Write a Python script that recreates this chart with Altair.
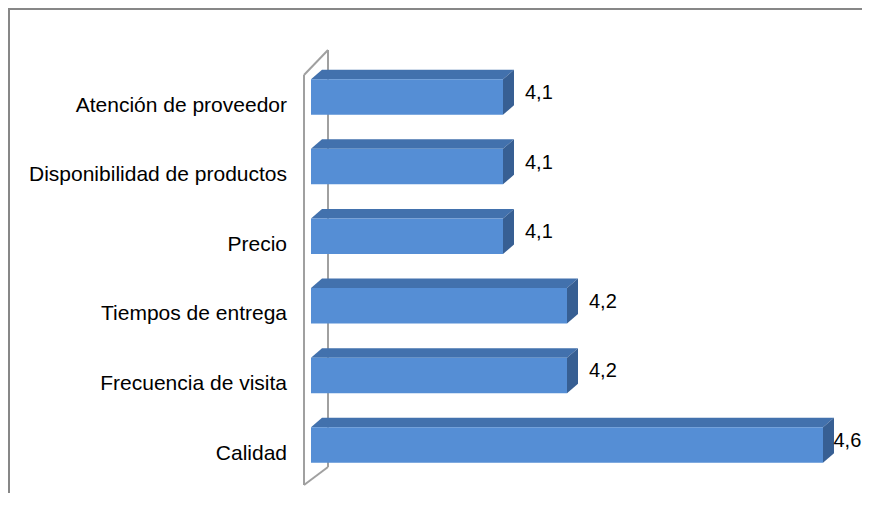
import altair as alt
import pandas as pd

# ---- data ----
categories = ["Atención de proveedor", "Disponibilidad de productos", "Precio",
              "Tiempos de entrega", "Frecuencia de visita", "Calidad"]
values = [4.1, 4.1, 4.1, 4.2, 4.2, 4.6]

# ---- layout (pixels inside the svg) ----
W, H = 854, 485
AXIS_MIN = 3.8          # value where the bars start
PX_PER_UNIT = 640.0
ORIGIN_PX = 303         # svg x of AXIS_MIN
ROW_PX = 69.6           # distance between bar centres
FIRST_ROW_PX = 89       # svg y of first bar centre
BAR_PX = 35.5
DEPTH_X_PX = 11
DEPTH_Y_PX = 9.5
LABEL_DX = 22
LABEL_W = 28.5          # approx. width of a value label

FRONT = "#558ED5"
TOP = "#4271AD"
SIDE = "#375F93"
WALL = "#A0A0A0"
BORDER = "#878787"
FONT = "Liberation Sans"


def px_to_x(px):
    return AXIS_MIN + (px - ORIGIN_PX) / PX_PER_UNIT


def px_to_y(py):
    return (py - FIRST_ROW_PX) / ROW_PX


x_domain = [px_to_x(0), px_to_x(W)]
y_domain = [px_to_y(0), px_to_y(H)]
xs = alt.Scale(domain=x_domain, nice=False, zero=False)
ys = alt.Scale(domain=y_domain, nice=False, zero=False, reverse=True)

dxu = DEPTH_X_PX / PX_PER_UNIT
dyu = DEPTH_Y_PX / ROW_PX
hu = BAR_PX / ROW_PX / 2

bars = pd.DataFrame({"cat": categories, "value": values, "idx": list(range(len(categories)))})
bars["base"] = AXIS_MIN
bars["y_top"] = bars["idx"] - hu
bars["y_bot"] = bars["idx"] + hu
bars["label"] = [f"{v:.1f}".replace(".", ",") for v in values]
# keep value labels inside the drawing
bars["label_x"] = bars["value"].clip(upper=px_to_x(W - LABEL_W - LABEL_DX))

# top faces (parallelograms) and right side faces, derived from the values
top_rows, side_rows = [], []
for c, v, i in zip(categories, values, range(len(categories))):
    yf = i - hu
    yb = yf - dyu
    top_rows += [
        {"cat": c, "x": AXIS_MIN, "y": yf, "y2": yf},
        {"cat": c, "x": AXIS_MIN + dxu, "y": yb, "y2": yf},
        {"cat": c, "x": v, "y": yb, "y2": yf},
        {"cat": c, "x": v + dxu, "y": yb, "y2": yb},
    ]
    side_rows += [
        {"cat": c, "x": v, "y": yf, "y2": yf + 2 * hu},
        {"cat": c, "x": v + dxu, "y": yb, "y2": yb + 2 * hu},
    ]
top_df = pd.DataFrame(top_rows)
side_df = pd.DataFrame(side_rows)

# 3-D side wall outline
wall_pts = [((296, 67), (296, 477)), ((320, 42), (320, 459)),
            ((296, 67), (320, 42)), ((296, 477), (320, 459))]
wall_df = pd.DataFrame([
    {"x": px_to_x(a[0]), "y": px_to_y(a[1]), "x2": px_to_x(b[0]), "y2": px_to_y(b[1])}
    for a, b in wall_pts
])

wall = alt.Chart(wall_df).mark_rule(color=WALL, strokeWidth=2).encode(
    x=alt.X("x:Q", scale=xs, axis=None),
    y=alt.Y("y:Q", scale=ys, axis=None),
    x2="x2:Q", y2="y2:Q",
)

front = alt.Chart(bars).mark_rect(color=FRONT).encode(
    x=alt.X("base:Q", scale=xs, axis=None),
    x2="value:Q",
    y=alt.Y("y_top:Q", scale=ys, axis=None),
    y2="y_bot:Q",
)

top = alt.Chart(top_df).mark_area(color=TOP, orient="vertical").encode(
    x=alt.X("x:Q", scale=xs, axis=None),
    y=alt.Y("y:Q", scale=ys, axis=None, stack=None),
    y2="y2:Q",
    detail="cat:N",
)

side = alt.Chart(side_df).mark_area(color=SIDE, orient="vertical").encode(
    x=alt.X("x:Q", scale=xs, axis=None),
    y=alt.Y("y:Q", scale=ys, axis=None, stack=None),
    y2="y2:Q",
    detail="cat:N",
)

cat_labels = alt.Chart(bars).mark_text(
    align="right", baseline="alphabetic", dx=-24, dy=14.5,
    fontSize=21, font=FONT, color="#000000",
).encode(
    x=alt.X("base:Q", scale=xs, axis=None),
    y=alt.Y("idx:Q", scale=ys, axis=None),
    text="cat:N",
)

val_labels = alt.Chart(bars).mark_text(
    align="left", baseline="alphabetic", dx=LABEL_DX, dy=2,
    fontSize=20, font=FONT, color="#000000",
).encode(
    x=alt.X("label_x:Q", scale=xs, axis=None),
    y=alt.Y("idx:Q", scale=ys, axis=None),
    text="label:N",
)

one = pd.DataFrame({"a": [0]})
border_left = alt.Chart(one).mark_rule(color=BORDER, strokeWidth=2).encode(
    x=alt.value(1), y=alt.value(0), y2=alt.value(H)
)
border_top = alt.Chart(one).mark_rule(color=BORDER, strokeWidth=2).encode(
    x=alt.value(0), x2=alt.value(W), y=alt.value(1)
)

chart = alt.layer(
    wall, top, side, front, cat_labels, val_labels, border_left, border_top
).properties(
    width=W, height=H, autosize=alt.AutoSizeParams(type="none"), padding=0,
    background="white",
).configure_view(stroke=None)

chart.save("out.html", embed_options={"renderer": "svg", "actions": False})
